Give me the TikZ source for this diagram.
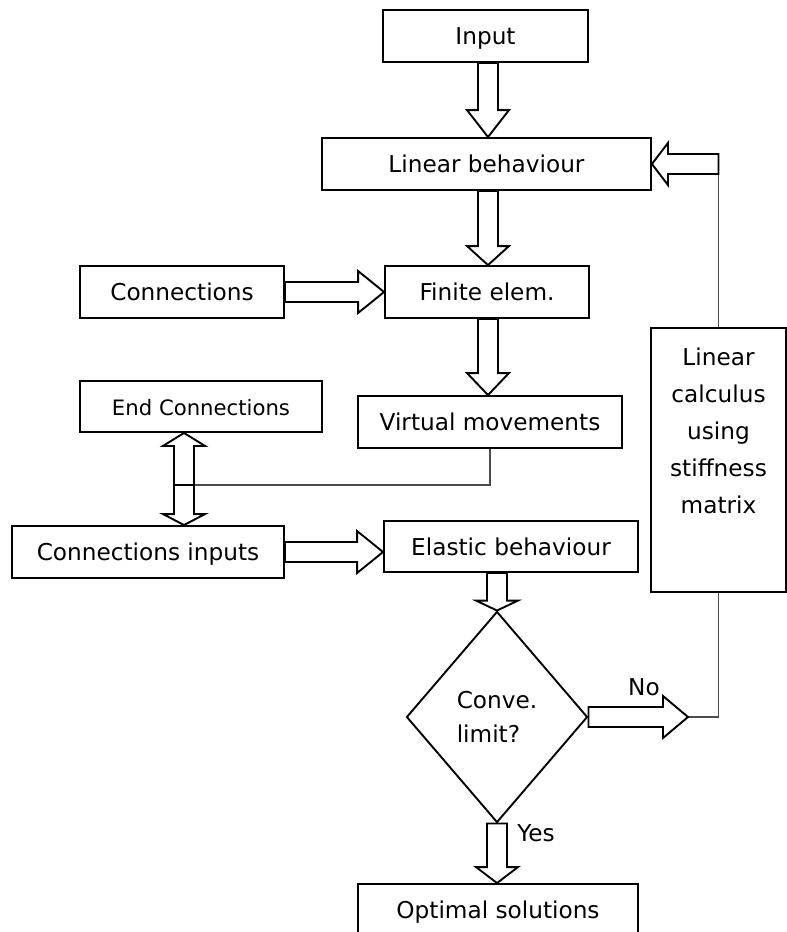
\documentclass[tikz,border=0pt]{standalone}
\usepackage{fontspec}
\setmainfont{DejaVu Sans}
\usetikzlibrary{positioning,calc,shapes.geometric}

% hollow block arrow from #2 to #3, head length #1
\newcommand\blockarrow[3][26pt]{%
  \coordinate (hb) at ($(#3)!#1!(#2)$);
  \draw[blockline] ($(#2)!10pt!90:(#3)$) -- ($(hb)!10pt!90:(#3)$)
    -- ($(hb)!21pt!90:(#3)$) -- (#3) -- ($(hb)!21pt!-90:(#3)$)
    -- ($(hb)!10pt!-90:(#3)$) -- ($(#2)!10pt!-90:(#3)$) -- cycle;}

\begin{document}
\begin{tikzpicture}[x=1pt,y=-1pt,
  font=\fontsize{23.2}{37}\selectfont,
  box/.style={draw,line width=1.9pt,fill=white,inner sep=0pt,
    minimum height=52pt,text height=17pt,text depth=0pt},
  decision/.style={draw,diamond,line width=1.9pt,inner sep=0pt,align=left,
    font=\fontsize{23.2}{34}\selectfont},
  txt/.style={inner sep=0pt,align=center},
  lbl/.style={inner sep=0pt},
  blockline/.style={draw,fill=white,line width=1.9pt,line join=miter},
  link/.style={draw,black!70,line width=1.3pt}
]
\clip (0,0) rectangle (787,932);

% main column
\node[box,minimum width=205pt] (input) at (485.5,36) {Input};
\node[box,minimum width=329pt] (linear) at (486.5,164) {Linear behaviour};
\node[box,minimum width=204pt] (finite) at (487,292) {Finite elem.};
\node[box,minimum width=264pt] (virtual) at (490,422) {Virtual movements};
\node[box,minimum width=254pt,minimum height=51pt] (elastic) at (511,546.5) {Elastic behaviour};
\node[decision,minimum width=181pt,minimum height=211pt] (check) at (497,717) {Conve.\\limit?};
\node[box,minimum width=280pt] (optimal) at (498,910) {Optimal solutions};

% left side
\node[box,minimum width=204pt] (conn) at (182,292) {Connections};
\node[box,minimum width=242pt,minimum height=51pt,font=\fontsize{21.2}{25}\selectfont] (endconn) at (201,406.5) {End Connections};
\node[box,minimum width=272pt] (conninputs) at (148,552) {Connections inputs};

% right side
\node[box,minimum width=135pt,minimum height=264pt] (stiffness) at (718.5,460) {};
\node[txt,below=21pt of stiffness.north] (stifftext) {Linear\\calculus\\using\\stiffness\\matrix};

\coordinate (axis) at (488,0);
\coordinate (split) at (184,485);
\coordinate (noend) at (688,717);

% thin feedback lines
\draw[link] (virtual.south) |- ($(split)+(10pt,0)$);
\draw[link] (noend) -| (stiffness.south);
\draw[link] (stiffness.north) -- (stiffness.north |- linear.east);

% arrows
\blockarrow[27pt]{input.south -| axis}{linear.north -| axis}
\blockarrow[19pt]{linear.south -| axis}{finite.north -| axis}
\blockarrow[22pt]{finite.south -| axis}{virtual.north -| axis}
\blockarrow{conn.east}{finite.west}
\blockarrow{conninputs.east}{conninputs.east -| elastic.west}
\blockarrow[13pt]{split}{endconn.south -| split}
\blockarrow[11pt]{split}{conninputs.north -| split}
\blockarrow[10pt]{elastic.south -| check.north}{check.north}
\blockarrow[16pt]{check.south}{optimal.north -| check.south}
\blockarrow[25pt]{check.east}{noend}
\blockarrow[16pt]{stiffness.north |- linear.east}{linear.east}

\node[lbl] (nolabel) at (644,687) {No};
\node[lbl] (yeslabel) at (536,833) {Yes};
\end{tikzpicture}
\end{document}
